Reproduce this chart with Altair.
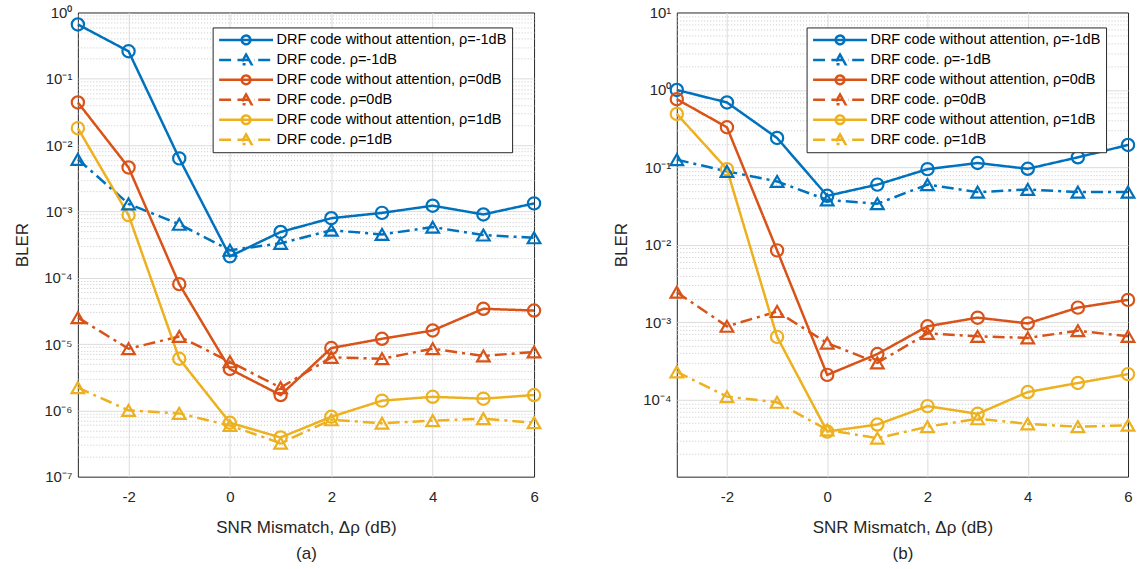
import altair as alt
import pandas as pd

# ---------------- data ----------------
x_vals = [-3, -2, -1, 0, 1, 2, 3, 4, 5, 6]

series_names = [
    "DRF code without attention, ρ=-1dB",
    "DRF code. ρ=-1dB",
    "DRF code without attention, ρ=0dB",
    "DRF code. ρ=0dB",
    "DRF code without attention, ρ=1dB",
    "DRF code. ρ=1dB",
]
series_markers = ["circle", "triangle", "circle", "triangle", "circle", "triangle"]
series_colors = ["#0072BD", "#0072BD", "#D95319", "#D95319", "#EDB120", "#EDB120"]

# panel (a)
a_blue_noatt = [0.66, 0.26, 6.3e-3, 2.1e-4, 4.9e-4, 7.9e-4, 9.5e-4, 1.22e-3, 9.0e-4, 1.32e-3]
a_blue_drf = [6.1e-3, 1.3e-3, 6.4e-4, 2.6e-4, 3.3e-4, 5.2e-4, 4.5e-4, 5.8e-4, 4.4e-4, 4.0e-4]
a_red_noatt = [0.044, 4.6e-3, 8.0e-5, 4.2e-6, 1.7e-6, 8.7e-6, 1.2e-5, 1.6e-5, 3.4e-5, 3.2e-5]
a_red_drf = [2.5e-5, 8.5e-6, 1.3e-5, 5.4e-6, 2.2e-6, 6.3e-6, 6.0e-6, 8.5e-6, 6.6e-6, 7.6e-6]
a_yel_noatt = [0.018, 8.8e-4, 6.0e-6, 6.5e-7, 3.9e-7, 8.0e-7, 1.4e-6, 1.6e-6, 1.5e-6, 1.7e-6]
a_yel_drf = [2.2e-6, 1.0e-6, 9.0e-7, 5.9e-7, 3.2e-7, 7.2e-7, 6.4e-7, 7.0e-7, 7.5e-7, 6.5e-7]

# panel (b)
b_blue_noatt = [1.0, 0.69, 0.24, 0.043, 0.06, 0.095, 0.114, 0.096, 0.135, 0.195]
b_blue_drf = [0.126, 0.089, 0.066, 0.038, 0.034, 0.06, 0.048, 0.052, 0.048, 0.048]
b_red_noatt = [0.76, 0.33, 8.5e-3, 2.1e-4, 3.9e-4, 8.9e-4, 1.15e-3, 9.7e-4, 1.55e-3, 1.95e-3]
b_red_drf = [2.45e-3, 8.9e-4, 1.38e-3, 5.4e-4, 3.0e-4, 7.2e-4, 6.6e-4, 6.3e-4, 7.8e-4, 6.6e-4]
b_yel_noatt = [0.49, 0.095, 6.5e-4, 3.9e-5, 4.8e-5, 8.3e-5, 6.6e-5, 1.26e-4, 1.65e-4, 2.15e-4]
b_yel_drf = [2.3e-4, 1.1e-4, 9.3e-5, 4.1e-5, 3.2e-5, 4.5e-5, 5.7e-5, 4.9e-5, 4.5e-5, 4.7e-5]

x_ticks = [-2, 0, 2, 4, 6]
a_y_major = [1e-7, 1e-6, 1e-5, 1e-4, 1e-3, 1e-2, 1e-1, 1e0]
a_y_labels = ["10⁻⁷", "10⁻⁶", "10⁻⁵", "10⁻⁴", "10⁻³", "10⁻²", "10⁻¹", "10⁰"]
b_y_major = [1e-4, 1e-3, 1e-2, 1e-1, 1e0, 1e1]
b_y_labels = ["10⁻⁴", "10⁻³", "10⁻²", "10⁻¹", "10⁰", "10¹"]

# ---------------- styling ----------------
FONT = "Liberation Sans"
TXT = "#262626"
solid = [1, 0]
dashdot = [12, 5, 3, 5]
series_dash = [solid, dashdot, solid, dashdot, solid, dashdot]

# legend glyphs: line + marker (custom SVG paths in the [-1, 1] box)
circle_glyph = ("M-1,0L1,0M0.16,0A0.16,0.16,0,1,1,-0.16,0"
                "A0.16,0.16,0,1,1,0.16,0Z")
tri_glyph = ("M-1,0L-0.45,0M-0.32,0L0.32,0M0.45,0L1,0"
             "M0,-0.2L0.2,0.16L-0.2,0.16Z")
series_glyphs = [circle_glyph if m == "circle" else tri_glyph for m in series_markers]


def make_frame(vals):
    rows = []
    for name, marker, v in zip(series_names, series_markers, vals):
        for xv, yv in zip(x_vals, v):
            rows.append({"x": xv, "y": yv, "series": name, "marker": marker})
    return pd.DataFrame(rows)


def minor_values(lo, hi):
    out = []
    e = -12
    while 10 ** e <= hi * 1.0001:
        for m in range(1, 10):
            v = m * 10.0 ** e
            if lo * 0.9999 <= v <= hi * 1.0001:
                out.append(v)
        e += 1
    return out


def panel(vals, ydomain, y_major, y_labels, lx, ly, xtitle, w, h):
    df = make_frame(vals)
    lo, hi = ydomain
    label_expr = ""
    for v, t in zip(y_major, y_labels):
        label_expr += f"abs(datum.value - {v!r}) < {v!r} * 0.001 ? '{t}' : "
    label_expr += "''"
    is_minor = "abs(log(datum.value)/LN10 - round(log(datum.value)/LN10)) > 0.001"
    at_edge_y = f"datum.value <= {lo * 1.001!r} || datum.value >= {hi * 0.999!r}"

    x_enc = alt.X(
        "x:Q",
        scale=alt.Scale(domain=[-3, 6], nice=False, zero=False),
        axis=alt.Axis(
            values=x_ticks, title=xtitle, titleLineHeight=26, titlePadding=15,
            labelFlush=False, ticks=False, domain=False, labelPadding=13,
            labelExpr="replace(datum.label, '−', '-')",
            gridColor="#dcdcdc", gridWidth=1,
            gridOpacity={"condition": {"test": "datum.value >= 6", "value": 0}, "value": 1},
        ),
    )
    y_enc = alt.Y(
        "y:Q",
        scale=alt.Scale(type="log", domain=[lo, hi], nice=False),
        axis=alt.Axis(
            values=minor_values(lo, hi), labelExpr=label_expr, title="BLER",
            labelOverlap=False, ticks=False, domain=False, labelPadding=6,
            titlePadding=12, labelFlush=False,
            gridDash={"condition": {"test": is_minor, "value": [1, 2]}, "value": []},
            gridColor={"condition": {"test": is_minor, "value": "#c8c8c8"}, "value": "#dcdcdc"},
            gridOpacity={"condition": {"test": at_edge_y, "value": 0}, "value": 1},
        ),
    )
    color_scale = alt.Scale(domain=series_names, range=series_colors)
    base = alt.Chart(df)

    leg = alt.Legend(
        title=None, orient="none", legendX=lx, legendY=ly,
        strokeColor=TXT, fillColor="white", padding=5, cornerRadius=0,
        labelFont=FONT, labelFontSize=14.5, labelColor="#000000", labelLimit=0,
        symbolSize=2916, symbolStrokeWidth=2.5, rowPadding=4, labelOffset=2,
        clipHeight=15,
    )
    legend_layer = base.transform_filter("false").mark_point(
        filled=False, size=2916, strokeWidth=2.5, opacity=1
    ).encode(
        x=x_enc, y=y_enc,
        color=alt.Color("series:N", scale=color_scale, legend=leg),
        shape=alt.Shape("series:N", scale=alt.Scale(domain=series_names, range=series_glyphs), legend=leg),
    )
    lines = base.mark_line(strokeWidth=2.5).encode(
        x=x_enc, y=y_enc,
        color=alt.Color("series:N", scale=color_scale),
        strokeDash=alt.StrokeDash("series:N", scale=alt.Scale(domain=series_names, range=series_dash), legend=None),
    )
    circles = base.transform_filter(alt.datum.marker == "circle").mark_point(
        shape="circle", filled=False, size=150, strokeWidth=2.2, opacity=1
    ).encode(x=x_enc, y=y_enc, color=alt.Color("series:N", scale=color_scale))
    tris = base.transform_filter(alt.datum.marker == "triangle").mark_point(
        shape="triangle-up", filled=False, size=160, strokeWidth=2.2, opacity=1
    ).encode(x=x_enc, y=y_enc, color=alt.Color("series:N", scale=color_scale))

    return alt.layer(legend_layer, lines, circles, tris).properties(width=w, height=h)


left = panel(
    [a_blue_noatt, a_blue_drf, a_red_noatt, a_red_drf, a_yel_noatt, a_yel_drf],
    (1e-7, 1.0), a_y_major, a_y_labels, 135, 15,
    ["SNR Mismatch, Δρ (dB)", "(a)"], 457, 465,
)
right = panel(
    [b_blue_noatt, b_blue_drf, b_red_noatt, b_red_drf, b_yel_noatt, b_yel_drf],
    (1.02e-5, 10.0), b_y_major, b_y_labels, 130, 15,
    ["SNR Mismatch, Δρ (dB)", "(b)"], 452, 465,
)

chart = alt.hconcat(left, right, spacing=66).resolve_scale(
    color="independent", shape="independent", strokeDash="independent"
).resolve_legend(color="independent", shape="independent").configure(
    padding={"left": 13, "top": 4, "right": 0, "bottom": 0},
    font=FONT,
).configure_axis(
    labelFont=FONT, labelFontSize=15, labelColor=TXT,
    titleFont=FONT, titleFontSize=17, titleFontWeight="normal", titleColor=TXT,
).configure_view(stroke=TXT, strokeWidth=1)

chart.save("out.html", embed_options={"renderer": "svg", "actions": False})
